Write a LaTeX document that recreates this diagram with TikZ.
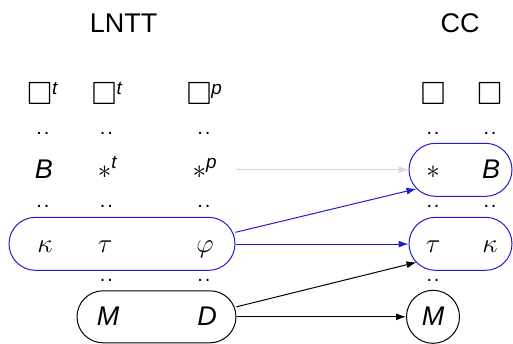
\RequirePackage{fix-cm}
\documentclass[tikz,border=0pt]{standalone}
\usepackage{amsmath,amssymb}
\DeclareFontFamily{U}{msa}{}
\DeclareFontShape{U}{msa}{m}{n}{<-> msam10}{}
\usepackage{fontspec}
\setmainfont{Liberation Sans}
\usetikzlibrary{shapes.misc,arrows.meta}
\definecolor{myblue}{RGB}{30,30,205}
\definecolor{mygray}{RGB}{215,215,215}
\newcommand{\bigsq}{\scalebox{1.19}{$\square$}}
\tikzset{
  lbl/.style={inner sep=0pt, anchor=base, font=\fontsize{27}{32}\selectfont},
  dotpair/.style={inner sep=0pt, font=\fontsize{20}{20}\selectfont},
  bluebox/.style={draw=myblue, line width=1pt, rounded rectangle, inner sep=0pt},
  blackbox/.style={draw=black, line width=1pt, rounded rectangle, inner sep=0pt},
  blackcirc/.style={draw=black, line width=1pt, circle, inner sep=0pt},
  arr/.style={-{Latex[length=10pt,width=7pt]}, line width=1pt},
  bluearr/.style={-{Latex[length=10pt,width=7pt]}, line width=1pt, myblue},
  grayarr/.style={-{Latex[length=10pt,width=7pt]}, line width=1pt, mygray},
}
\begin{document}
\begin{tikzpicture}[x=1pt,y=-1pt]
\useasboundingbox (0,0) rectangle (513,343);
% boxes
\node[bluebox, minimum width=226pt, minimum height=53pt] (L2) at (122,243.8) {};
\node[blackbox, minimum width=159pt, minimum height=52pt] (MD) at (156.5,316.8) {};
\node[bluebox, minimum width=103pt, minimum height=53pt] (R1) at (460.5,169.8) {};
\node[bluebox, minimum width=103pt, minimum height=53pt] (R2) at (460.5,243.8) {};
\node[blackcirc, minimum size=53pt] (Mc) at (433,316.8) {};
% titles
\node[lbl] (lntt) at (123.5,32) {LNTT};
\node[lbl] (cc) at (460,32) {CC};
% left column labels
\node[lbl] (b1) at (42.5,104) {\bigsq$^{\textit{t}}$};
\node[lbl] (b2) at (107,104) {\bigsq$^{\textit{t}}$};
\node[lbl] (b3) at (204.5,104) {\bigsq$^{\textit{p}}$};
\node[dotpair] (d11) at (43,133) {.\kern1.9pt.};
\node[dotpair] (d12) at (106.5,133) {.\kern1.9pt.};
\node[dotpair] (d13) at (204,133) {.\kern1.9pt.};
\node[lbl] (bb) at (44,178.5) {\textit{B}};
\node[lbl] (st) at (107.5,178.5) {$*^{\textit{t}}$};
\node[lbl] (ps) at (205,178.5) {$*^{\textit{p}}$};
\node[dotpair] (d21) at (43,206) {.\kern1.9pt.};
\node[dotpair] (d22) at (106.5,206) {.\kern1.9pt.};
\node[dotpair] (d23) at (204,206) {.\kern1.9pt.};
\node[lbl] (ka) at (45,252) {$\kappa$};
\node[lbl] (ta) at (105,252) {$\tau$};
\node[lbl] (ph) at (205,252) {$\varphi$};
\node[dotpair] (d32) at (106.5,280) {.\kern1.9pt.};
\node[dotpair] (d33) at (204,280) {.\kern1.9pt.};
\node[lbl] (mm) at (108,325) {\textit{M}};
\node[lbl] (dl) at (207,325) {\textit{D}};
% right column labels
\node[lbl] (rb1) at (433,104) {\bigsq};
\node[lbl] (rb2) at (489.5,104) {\bigsq};
\node[dotpair] (rd11) at (433,133) {.\kern1.9pt.};
\node[dotpair] (rd12) at (490,133) {.\kern1.9pt.};
\node[lbl] (rs) at (433,178.5) {$*$};
\node[lbl] (rB) at (491,178.5) {\textit{B}};
\node[dotpair] (rd21) at (433,206) {.\kern1.9pt.};
\node[dotpair] (rd22) at (490,206) {.\kern1.9pt.};
\node[lbl] (rt) at (433,252) {$\tau$};
\node[lbl] (rk) at (490,252) {$\kappa$};
\node[dotpair] (rd31) at (433,280) {.\kern1.9pt.};
\node[lbl] (rM) at (433,325) {\textit{M}};
% arrows
\coordinate (gs) at (ps.east |- R1.west);
\draw[grayarr] ([xshift=19pt]gs) -- (R1.west);
\draw[bluearr] ([yshift=11.5pt]L2.east) -- ([xshift=8pt,yshift=-19pt]R1.west);
\draw[bluearr] ([yshift=-0.3pt]L2.east) -- ([yshift=-0.3pt]R2.west);
\draw[arr] ([yshift=10pt]MD.east) -- ([xshift=8pt,yshift=-18.5pt]R2.west);
\draw[arr] (MD.east) -- (Mc.west);
\end{tikzpicture}
\end{document}
